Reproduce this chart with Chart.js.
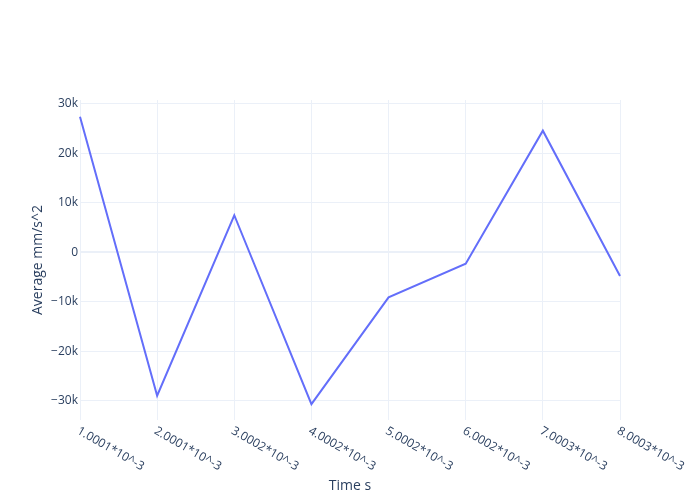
<!DOCTYPE html>
<html>
<head>
<meta charset="utf-8">
<script src="https://cdn.jsdelivr.net/npm/chart.js@4/dist/chart.umd.min.js"></script>
<style>
  html, body { margin: 0; padding: 0; background: #fff; }
  #wrap { width: 700px; height: 500px; }
</style>
</head>
<body>
<div id="wrap"><canvas id="accChart"></canvas></div>
<script>
// datos
const timeLabels = ['1.0001*10^-3', '2.0001*10^-3', '3.0002*10^-3', '4.0002*10^-3',
                    '5.0002*10^-3', '6.0002*10^-3', '7.0003*10^-3', '8.0003*10^-3'];
const avgAccel = [27400, -29000, 7500, -30700, -9100, -2300, 24600, -4800];
const yTicks = [-30000, -20000, -10000, 0, 10000, 20000, 30000];

const FONT = '"Open Sans", "Noto Sans", sans-serif';
const TEXT = '#2a3f5f';
const GRID = '#ebf0f8';

function fmtK(v) {
    if (v === 0) return '0';
    const s = Math.abs(v / 1000) + 'k';
    return v < 0 ? '\u2212' + s : s;
}

// etiquetas del eje x giradas hacia abajo a la derecha, como en plotly
const rotatedLabels = {
    id: 'rotatedLabels',
    afterDraw(chart) {
        const xs = chart.scales.x;
        const c = chart.ctx;
        c.save();
        c.font = '12px ' + FONT;
        c.fillStyle = TEXT;
        c.textAlign = 'left';
        c.textBaseline = 'middle';
        timeLabels.forEach((lab, i) => {
            const px = xs.getPixelForValue(i);
            c.save();
            c.translate(px - 2, xs.top + 10);
            c.rotate(Math.PI / 6);
            c.fillText(lab, 0, 0);
            c.restore();
        });
        c.restore();
    }
};

const ctx = document.getElementById('accChart');
new Chart(ctx, {
    type: 'line',
    data: {
        labels: timeLabels,
        datasets: [{
            data: avgAccel,
            borderColor: '#636efa',
            borderWidth: 2,
            pointRadius: 0,
            tension: 0,
            fill: false
        }]
    },
    options: {
        responsive: true,
        maintainAspectRatio: false,
        animation: false,
        layout: { padding: { left: 0, top: 100, right: 80, bottom: 0 } },
        plugins: {
            legend: { display: false },
            tooltip: { enabled: false }
        },
        scales: {
            x: {
                type: 'category',
                offset: false,
                grid: { color: GRID, lineWidth: 1, drawTicks: false, offset: false },
                border: { display: false },
                ticks: { display: false },
                title: {
                    display: true, text: 'Time s', color: TEXT,
                    font: { family: FONT, size: 14 }, padding: { top: 0, bottom: 6 }
                },
                afterFit(scale) { scale.height = 80; }
            },
            y: {
                min: -33900,
                max: 30800,
                afterBuildTicks(scale) { scale.ticks = yTicks.map(v => ({ value: v })); },
                grid: {
                    color: GRID,
                    lineWidth: ctx => ctx.tick && ctx.tick.value === 0 ? 2 : 1,
                    drawTicks: false
                },
                border: { display: false },
                ticks: {
                    color: TEXT, padding: 2,
                    font: { family: FONT, size: 12 },
                    callback: v => fmtK(v)
                },
                title: {
                    display: true, text: 'Average mm/s^2', color: TEXT,
                    font: { family: FONT, size: 14 }, padding: { top: 30, bottom: 0 }
                },
                afterFit(scale) { scale.width = 80; }
            }
        }
    },
    plugins: [rotatedLabels]
});
</script>
</body>
</html>
